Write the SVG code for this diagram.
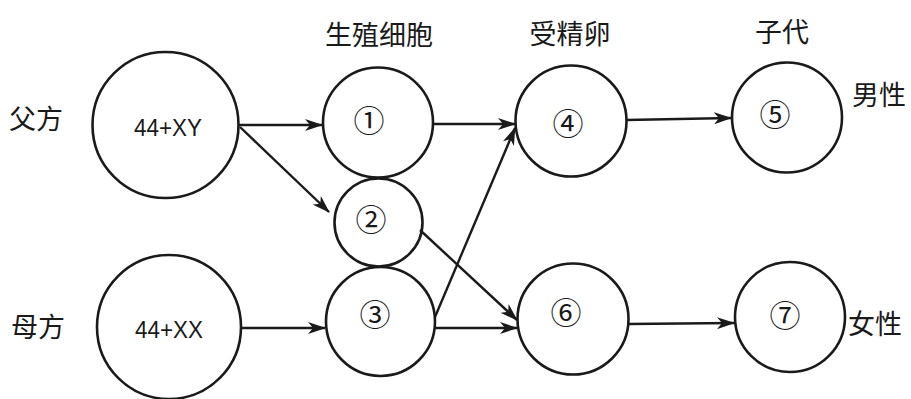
<svg xmlns="http://www.w3.org/2000/svg" width="911" height="399" viewBox="0 0 911 399">
<style>
.node circle{fill:none;stroke:#1a1a1a;stroke-width:2.6}
.cjk{font-family:"Noto Sans CJK SC","Noto Sans CJK JP",sans-serif;font-size:27px;fill:#1a1a1a;text-anchor:middle;dominant-baseline:central}
.num{font-family:"Noto Sans CJK SC","Noto Sans CJK JP",sans-serif;font-size:31px;fill:#1a1a1a;text-anchor:middle;dominant-baseline:central}
.chr{font-family:"Liberation Sans",Arial,sans-serif;font-size:24px;fill:#1a1a1a;text-anchor:middle;dominant-baseline:central}
.conn line{stroke:#1a1a1a;stroke-width:2.4;marker-end:url(#ah)}
</style>
<defs>
<marker id="ah" markerUnits="userSpaceOnUse" markerWidth="18" markerHeight="12" refX="17" refY="6" orient="auto" viewBox="0 0 18 12">
<path d="M0,0 L18,6 L0,12 L5,6 Z" fill="#1a1a1a"/>
</marker>
</defs>
<rect width="911" height="399" fill="#ffffff"/>
<g id="labels">
<text class="cjk" x="379" y="33">生殖细胞</text>
<text class="cjk" x="570" y="32">受精卵</text>
<text class="cjk" x="782" y="30">子代</text>
<text class="cjk" x="36" y="117">父方</text>
<text class="cjk" x="38" y="325">母方</text>
<text class="cjk" x="879" y="93">男性</text>
<text class="cjk" x="875" y="322">女性</text>
</g>
<g id="father" class="node"><circle cx="165.5" cy="125" r="73"/><text class="chr" x="168" y="127" textLength="68" lengthAdjust="spacingAndGlyphs">44+XY</text></g>
<g id="mother" class="node"><circle cx="169" cy="327" r="72"/><text class="chr" x="169" y="329" textLength="68" lengthAdjust="spacingAndGlyphs">44+XX</text></g>
<g id="n1" class="node"><circle cx="378" cy="122.5" r="55"/><text class="num" x="369" y="118">①</text></g>
<g id="n2" class="node"><circle cx="378.5" cy="222.5" r="44"/><text class="num" x="371" y="217">②</text></g>
<g id="n3" class="node"><circle cx="380.5" cy="321.5" r="54.5"/><text class="num" x="375" y="312">③</text></g>
<g id="n4" class="node"><circle cx="571" cy="121" r="55.5"/><text class="num" x="568" y="121">④</text></g>
<g id="n6" class="node"><circle cx="573" cy="319" r="55.5"/><text class="num" x="566" y="310">⑥</text></g>
<g id="n5" class="node"><circle cx="787" cy="117.5" r="55"/><text class="num" x="775" y="112">⑤</text></g>
<g id="n7" class="node"><circle cx="790" cy="317" r="55"/><text class="num" x="785" y="313">⑦</text></g>
<g id="connectors" class="conn">
<line x1="239" y1="125" x2="322" y2="125"/>
<line x1="240" y1="127" x2="329" y2="212"/>
<line x1="242" y1="328" x2="325" y2="328"/>
<line x1="433" y1="124" x2="515" y2="124"/>
<line x1="435" y1="317" x2="515" y2="128"/>
<line x1="420" y1="230" x2="517" y2="320"/>
<line x1="435" y1="328" x2="517" y2="328"/>
<line x1="626" y1="120" x2="731" y2="118"/>
<line x1="628" y1="324" x2="734" y2="323"/>
</g>
</svg>
